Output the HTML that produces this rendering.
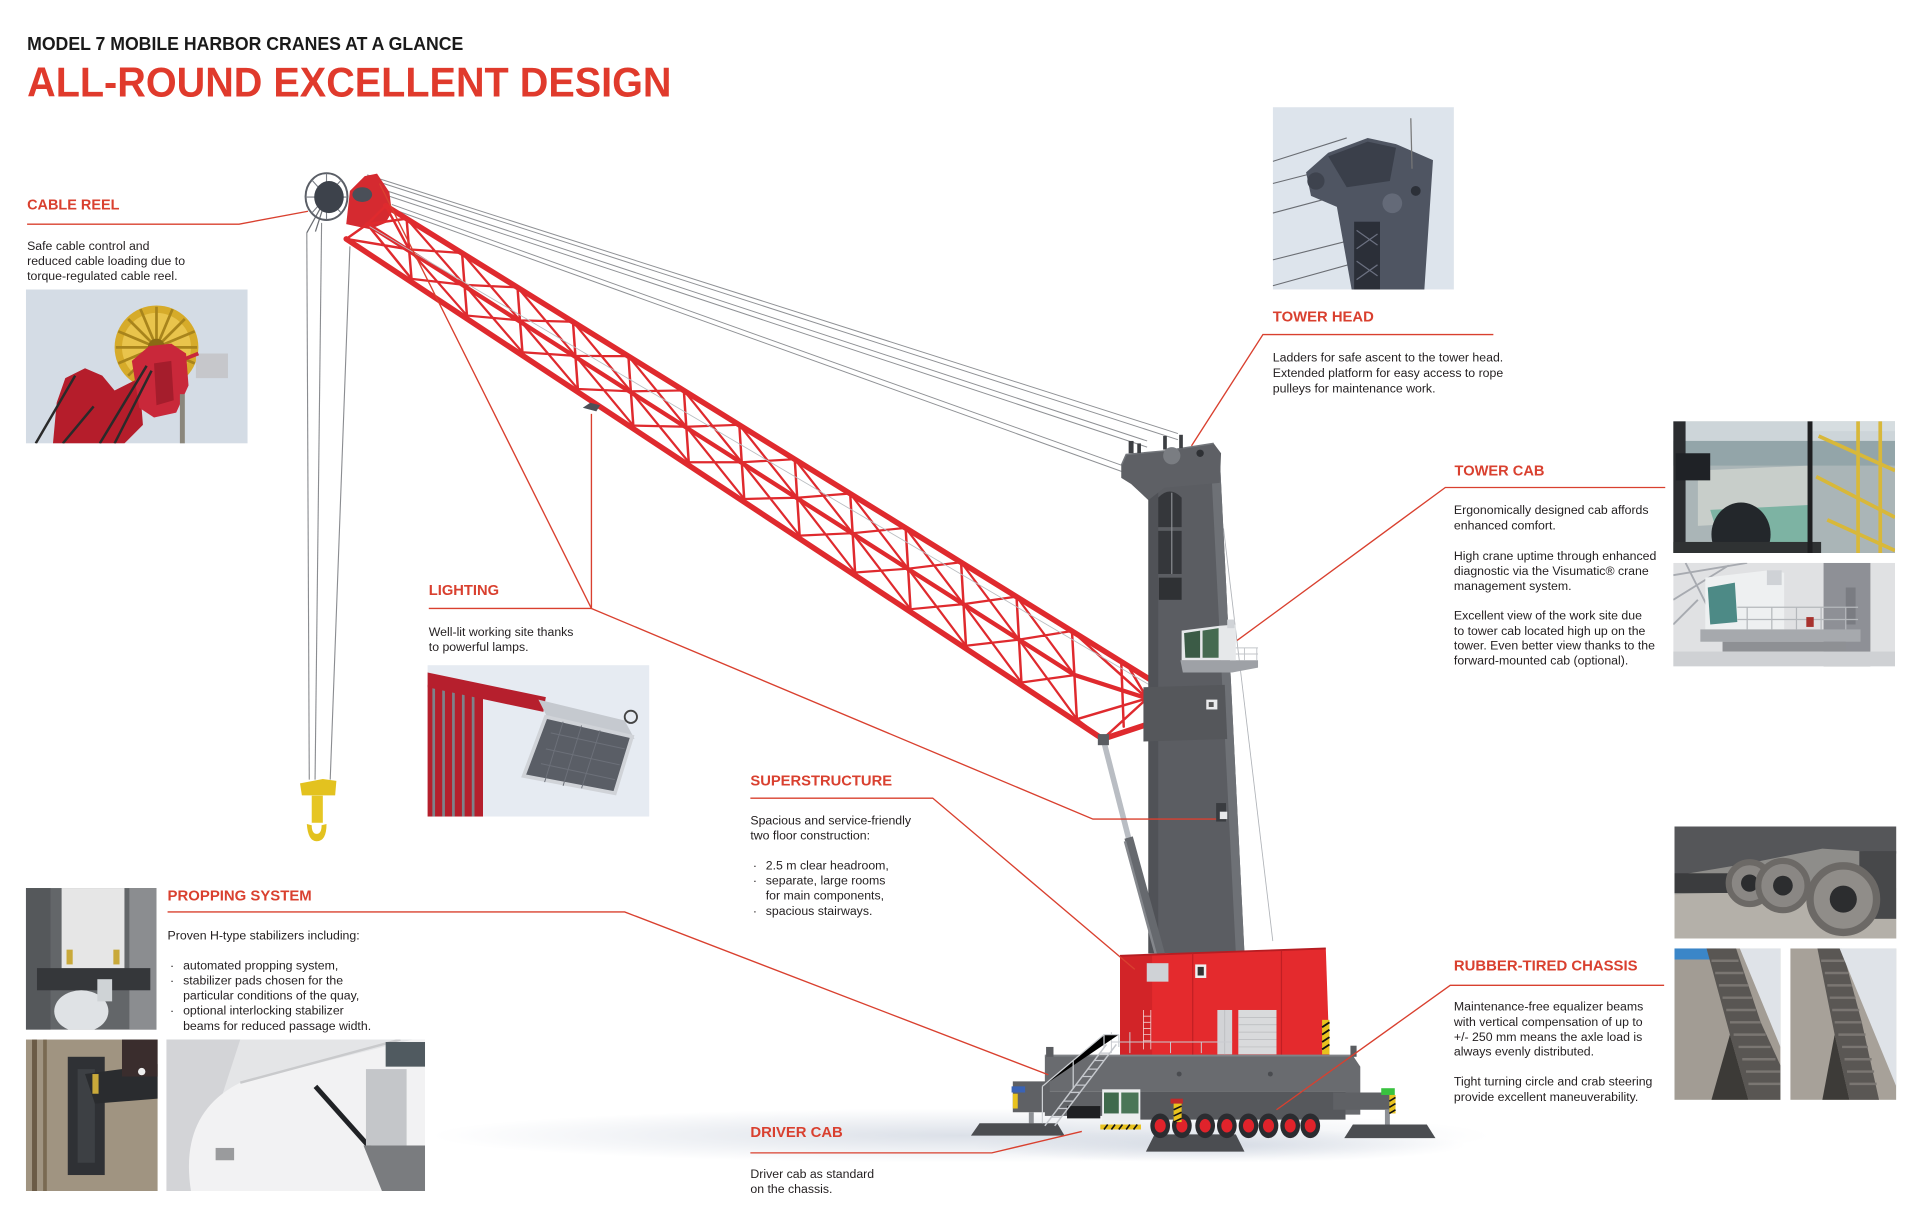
<!DOCTYPE html>
<html>
<head>
<meta charset="utf-8">
<style>
html,body{margin:0;padding:0;background:#fff;}
svg{display:block;}
</style>
</head>
<body>
<svg xmlns="http://www.w3.org/2000/svg" width="1932" height="1228" viewBox="0 0 1568 997" preserveAspectRatio="none" font-family="'Liberation Sans', Arial, sans-serif">
<defs>
<radialGradient id="sh" cx="0.5" cy="0.5" r="0.5">
<stop offset="0" stop-color="#c4ccd9" stop-opacity="0.6"/>
<stop offset="1" stop-color="#c4ccd9" stop-opacity="0"/>
</radialGradient>
</defs>
<rect width="1568" height="997" fill="#fff"/>

<!-- ground shadow -->
<ellipse cx="780" cy="922" rx="430" ry="22" fill="url(#sh)"/>
<ellipse cx="990" cy="930" rx="200" ry="14" fill="url(#sh)"/>

<!-- ===== TEXT: titles ===== -->
<text x="22" y="40.6" font-size="15" font-weight="bold" fill="#1a1a1a" textLength="354" lengthAdjust="spacingAndGlyphs">MODEL 7 MOBILE HARBOR CRANES AT A GLANCE</text>
<text x="22" y="78.5" font-size="34" font-weight="bold" fill="#e03a2c" textLength="523" lengthAdjust="spacingAndGlyphs">ALL-ROUND EXCELLENT DESIGN</text>

<!-- ===== PHOTOS ===== -->
<!-- cable reel photo -->
<svg x="21" y="235" width="180" height="125" viewBox="0 0 180 125">
<rect width="180" height="125" fill="#d4dce5"/>
<circle cx="106" cy="47" r="34" fill="#d6ab2a"/>
<circle cx="106" cy="47" r="28" fill="#e9c44c"/>
<path d="M106,14 V80 M73,47 H139 M83,24 L129,70 M129,24 L83,70 M93,16 L119,78 M119,16 L93,78 M75,34 L137,60 M137,34 L75,60" stroke="#a8841c" stroke-width="2.2"/>
<circle cx="106" cy="47" r="7" fill="#8a6a14"/>
<path d="M22,125 L25,92 L32,72 L48,64 L62,70 L72,82 L92,72 L95,110 L80,125 Z" fill="#b51d2b"/>
<path d="M86,58 L100,46 L118,44 L130,52 L132,78 L122,100 L104,104 L92,96 Z" fill="#c9283a"/>
<path d="M104,60 L118,58 L120,90 L106,94 Z" fill="#a51d2c"/>
<path d="M8,125 L40,70 M30,125 L55,95 M60,125 L98,62 M72,125 L102,66" stroke="#2a2a2a" stroke-width="2"/>
<rect x="138" y="52" width="26" height="20" fill="#c6c7cb"/>
<path d="M130,56 L140,52" stroke="#c9283a" stroke-width="3"/>
<rect x="125" y="85" width="4" height="40" fill="#8b877c"/>
</svg>

<!-- tower head photo -->
<svg x="1033" y="87" width="147" height="148" viewBox="0 0 147 148">
<rect width="147" height="148" fill="#dde4ec"/>
<path d="M0,44 L60,25 M0,62 L70,44 M0,86 L75,66 M0,124 L95,100 M0,145 L90,120" stroke="#6a6d73" stroke-width="0.9"/>
<path d="M27,53 L45,37 L77,25 L100,30 L130,43 L123,148 L64,148 L52,81 L31,72 Z" fill="#4f5562"/>
<path d="M45,40 L77,28 L100,33 L95,60 L60,65 Z" fill="#3a3f4a"/>
<rect x="66" y="93" width="21" height="55" fill="#2b2f38"/>
<path d="M68,100 L85,112 M68,115 L85,103 M68,125 L85,137 M68,140 L85,128" stroke="#6b7080" stroke-width="1"/>
<circle cx="97" cy="78" r="8" fill="#646a78"/>
<circle cx="116" cy="68" r="4" fill="#2c3038"/>
<circle cx="35" cy="60" r="7" fill="#3e434e"/>
<path d="M112,9 L113,50" stroke="#777" stroke-width="1"/>
</svg>

<!-- tower cab photo 1 -->
<svg x="1358" y="342" width="180" height="107" viewBox="0 0 180 107">
<rect width="180" height="107" fill="#aab5b7"/>
<rect width="180" height="16" fill="#cdd5d9"/>
<rect y="16" width="180" height="20" fill="#93a5a9"/>
<path d="M20,40 L110,36 L110,80 L20,85Z" fill="#c8ceca"/>
<path d="M30,72 L110,68 L112,100 L40,104 Z" fill="#7db3a3"/>
<ellipse cx="55" cy="92" rx="24" ry="26" fill="#23272b"/>
<rect width="10" height="107" fill="#2b2d30"/>
<rect x="2" y="26" width="28" height="22" fill="#1f2226"/>
<rect y="98" width="120" height="9" fill="#2f3233"/>
<rect x="113" width="67" height="8" fill="#d6dde0"/>
<path d="M118,12 L180,40 M116,45 L180,78 M150,0 L150,107 M168,0 L168,107 M125,80 L180,105" stroke="#d8b83a" stroke-width="3"/>
<rect x="109" width="4" height="107" fill="#1e1f21"/>
</svg>

<!-- tower cab photo 2 -->
<svg x="1358" y="457" width="180" height="84" viewBox="0 0 180 84">
<rect width="180" height="84" fill="#e0e1e3"/>
<path d="M0,10 L60,0 M0,30 L45,2 M10,0 L30,40 M0,50 L20,30" stroke="#a7aab0" stroke-width="1.5"/>
<rect x="122" width="38" height="84" fill="#8e9096"/>
<rect x="140" y="20" width="8" height="30" fill="#7a7c82"/>
<path d="M26,12 L78,6 L90,8 L90,54 L26,54 Z" fill="#eef0f1"/>
<path d="M28,20 L50,16 L52,48 L30,50 Z" fill="#4d8a86"/>
<rect x="76" y="6" width="12" height="12" fill="#cfd2d6"/>
<rect x="22" y="54" width="130" height="10" fill="#a6a9ad"/>
<rect x="40" y="64" width="100" height="8" fill="#8e9094"/>
<path d="M52,36 H150 M52,46 H150 M60,36 V54 M80,36 V54 M100,36 V54 M120,36 V54 M140,36 V54" stroke="#b5b8bc" stroke-width="1"/>
<rect x="108" y="44" width="6" height="8" fill="#a8322e"/>
<rect y="72" width="180" height="12" fill="#cfd1d4"/>
</svg>

<!-- lighting photo -->
<svg x="347" y="540" width="180" height="123" viewBox="0 0 180 123">
<rect width="180" height="123" fill="#e6ebf2"/>
<rect x="0" y="16" width="45" height="107" fill="#b51f2c"/>
<path d="M5,18 V123 M13,18 V123 M21,18 V123 M29,18 V123 M37,18 V123" stroke="#7d828a" stroke-width="2.2"/>
<path d="M0,6 L96,26 L94,38 L0,18 Z" fill="#b61f2d"/>
<path d="M90,28 L160,45 L168,60 L98,44 Z" fill="#c5c9cf"/>
<path d="M96,42 L166,58 L152,104 L78,90 Z" fill="#5a5e66" stroke="#d0d3d8" stroke-width="3"/>
<path d="M100,55 L160,68 M96,68 L156,81 M92,80 L152,93 M110,46 L95,95 M125,49 L110,98 M140,53 L125,100" stroke="#6c7079" stroke-width="0.8"/>
<circle cx="165" cy="42" r="5" fill="none" stroke="#444" stroke-width="1.5"/>
</svg>

<!-- propping photo 1 -->
<svg x="21" y="721" width="106" height="115" viewBox="0 0 106 115">
<rect width="106" height="115" fill="#636669"/>
<rect x="84" width="22" height="115" fill="#8b8d90"/>
<rect width="20" height="115" fill="#55585b"/>
<rect x="29" width="51" height="66" fill="#e6e6e6"/>
<rect x="33" y="50" width="5" height="12" fill="#c9a93a"/>
<rect x="71" y="50" width="5" height="12" fill="#c9a93a"/>
<rect x="9" y="65" width="92" height="18" fill="#35373a"/>
<ellipse cx="45" cy="100" rx="22" ry="17" fill="#dfe2e5"/>
<rect x="58" y="74" width="12" height="18" fill="#cfd3d6"/>
</svg>

<!-- propping photo 2 -->
<svg x="21" y="844" width="107" height="123" viewBox="0 0 107 123">
<rect width="107" height="123" fill="#a09481"/>
<rect x="5" width="4" height="123" fill="#6b5b46"/>
<rect x="14" width="3" height="123" fill="#7a6a52"/>
<rect x="34" y="14" width="30" height="96" fill="#2f3135"/>
<rect x="42" y="24" width="14" height="76" fill="#3d4044"/>
<path d="M48,28 L107,20 L107,48 L56,52 Z" fill="#2a2c2f"/>
<rect x="78" y="0" width="29" height="30" fill="#3a2d2d"/>
<circle cx="94" cy="26" r="3" fill="#eee"/>
<rect x="54" y="28" width="5" height="16" fill="#c9a93a"/>
</svg>

<!-- propping photo 3 -->
<svg x="135" y="844" width="210" height="123" viewBox="0 0 210 123">
<rect width="210" height="123" fill="#e4e5e7"/>
<path d="M0,0 H60 L20,123 H0Z" fill="#d3d4d7"/>
<path d="M20,123 Q10,60 60,35 L200,0 L210,0 V123 Z" fill="#f2f2f3"/>
<path d="M60,35 L190,0" stroke="#c9cacc" stroke-width="2"/>
<path d="M121,38 L178,102" stroke="#202225" stroke-width="4"/>
<rect x="162" y="24" width="33" height="62" fill="#c4c6c9"/>
<rect x="178" y="2" width="32" height="20" fill="#505a60"/>
<path d="M160,86 L210,86 L210,123 L175,123 Z" fill="#7a7c7f"/>
<rect x="40" y="88" width="15" height="10" fill="#9a9b9d"/>
</svg>

<!-- rubber photo 1 -->
<svg x="1359" y="671" width="180" height="91" viewBox="0 0 180 91">
<rect width="180" height="91" fill="#8e8d8a"/>
<path d="M0,0 H180 V22 L120,18 L60,30 L0,40 Z" fill="#555659"/>
<path d="M0,55 L180,50 V91 H0 Z" fill="#b4b0a9"/>
<rect y="38" width="50" height="16" fill="#3b3c3e"/>
<rect x="150" y="20" width="30" height="55" fill="#47484a"/>
<circle cx="61" cy="46" r="17" fill="#8a8784" stroke="#6c6966" stroke-width="5"/>
<circle cx="61" cy="46" r="7" fill="#2c2d2f"/>
<circle cx="88" cy="48" r="20" fill="#8a8784" stroke="#6c6966" stroke-width="5"/>
<circle cx="88" cy="48" r="8" fill="#2c2d2f"/>
<circle cx="137" cy="59" r="27" fill="#908d89" stroke="#6c6966" stroke-width="6"/>
<circle cx="137" cy="59" r="11" fill="#2c2d2f"/>
</svg>

<!-- rubber photo 2 -->
<svg x="1359" y="770" width="86" height="123" viewBox="0 0 86 123">
<rect width="86" height="123" fill="#a29c94"/>
<rect width="37" height="9" fill="#3b86c8"/>
<path d="M26,0 L50,0 L70,60 L86,95 L86,123 L60,123 L45,70 Z" fill="#595653"/>
<path d="M30,10 H52 M33,20 H56 M36,30 H60 M39,40 H63 M42,50 H66 M45,60 H70 M48,70 H74 M52,80 H78 M55,90 H82 M58,100 H86 M60,110 H86" stroke="#7a7672" stroke-width="2"/>
<path d="M45,70 L60,123 L30,123 Z" fill="#3c3a37"/>
<path d="M53,0 H86 V80 Z" fill="#dfe3e8"/>
</svg>

<!-- rubber photo 3 -->
<svg x="1453" y="770" width="86" height="123" viewBox="0 0 86 123">
<rect width="86" height="123" fill="#a7a199"/>
<path d="M22,0 L42,0 L58,60 L72,123 L48,123 L36,70 Z" fill="#5a5754"/>
<path d="M25,10 H44 M28,20 H47 M30,30 H50 M32,40 H53 M34,50 H56 M36,60 H58 M39,70 H61 M42,80 H63 M44,90 H66 M46,100 H68 M48,110 H70" stroke="#7a7672" stroke-width="2"/>
<path d="M36,70 L48,123 L26,123 Z" fill="#3d3b38"/>
<path d="M40,0 H86 V112 Z" fill="#dfe3e8"/>
</svg>

<!-- ===== CRANE ===== -->
<!-- tension cables -->
<g stroke="#8f9195" stroke-width="0.8" fill="none">
<path d="M298,142 L956,352"/>
<path d="M302,146 L956,357"/>
<path d="M308,153 L931,358"/>
<path d="M312,158 L931,363"/>
<path d="M318,166 L911,378"/>
<path d="M322,171 L911,383"/>
</g>
<!-- hoist ropes -->
<g stroke="#8a8c90" stroke-width="0.9" fill="none">
<path d="M249,189 L251,633"/>
<path d="M261,181 L255.7,633"/>
<path d="M284,200 L268,633"/>
</g>
<!-- hook -->
<path d="M243.5,636 L262,632.5 L273,634 L272,645.8 L245,645.8 Z" fill="#e3c21f"/>
<rect x="253" y="646" width="9" height="22" fill="#e6c624"/>
<path d="M249,669 Q250,683 257,683 Q265,683 265,669 L261,670 Q261,677 257,677 Q253,677 253,670 Z" fill="#e3c21f"/>

<!-- cable reel -->
<path d="M265,160 L249,189 M265,160 L256,188" stroke="#6b6e74" stroke-width="1"/>
<ellipse cx="265" cy="159.6" rx="17" ry="19" fill="none" stroke="#5a5e66" stroke-width="1.6"/>
<g stroke="#7a7e86" stroke-width="0.9">
<path d="M265,141 V178 M248,160 H282 M253,146 L277,173 M277,146 L253,173"/>
</g>
<ellipse cx="267" cy="160" rx="12" ry="13" fill="#3d424b"/>
<!-- boom head -->
<path d="M281,182 L284,155 L296,143 L306,141 L316,156 L318,172 L313,181 L300,186 Z" fill="#d52a30"/>
<ellipse cx="294" cy="158" rx="8" ry="6" fill="#4a4f58"/>

<!-- boom lattice -->
<g stroke="#df2a2e" fill="none" stroke-linecap="round">
<!-- chords -->
<path d="M313,167 L971,575" stroke-width="4.5"/>
<path d="M298,182 L872,548 L931,567 L971,575" stroke-width="3.5"/>
<path d="M281,194 L895,600 L971,575" stroke-width="4.5"/>
<!-- tip bracing -->
<path d="M313,167 L298,182 L281,194 M313,167 L332,202.5 M298,182 L330,177.5 M298,182 L334,226.4 M281,194 L332,202.5" stroke-width="2"/>
<!-- posts -->
<path stroke-width="2" d="M330,177.5L332,202.5L334,226.4 M375,205.4L377,231.3L379,256.2 M420,233.3L422,260.1L424,286 M465,261.2L467,288.9L469,315.8 M510,289.1L512,317.7L514,345.5 M555,317L557,346.5L559,375.3 M600,344.9L602,375.3L604,405.1 M645,372.8L647,404.1L649,434.9 M690,400.7L692,432.9L694,464.8 M735,428.6L737,461.7L739,494.6 M780,456.5L782,490.5L784,524.3 M825,484.4L827,519.3L829,554.1 M870,512.3L872,548.1L874,583.9"/>
<!-- upper diagonals -->
<path stroke-width="1.8" d="M330,177.5L377,231.3 M332,202.5L375,205.4 M375,205.4L422,260.1 M377,231.3L420,233.3 M420,233.3L467,288.9 M422,260.1L465,261.2 M465,261.2L512,317.7 M467,288.9L510,289.1 M510,289.1L557,346.5 M512,317.7L555,317 M555,317L602,375.3 M557,346.5L600,344.9 M600,344.9L647,404.1 M602,375.3L645,372.8 M645,372.8L692,432.9 M647,404.1L690,400.7 M690,400.7L737,461.7 M692,432.9L735,428.6 M735,428.6L782,490.5 M737,461.7L780,456.5 M780,456.5L827,519.3 M782,490.5L825,484.4 M825,484.4L872,548.1 M827,519.3L870,512.3"/>
<!-- lower diagonals -->
<path stroke-width="1.8" d="M332,202.5L379,256.2 M334,226.4L377,231.3 M377,231.3L424,286 M379,256.2L422,260.1 M422,260.1L469,315.8 M424,286L467,288.9 M467,288.9L514,345.5 M469,315.8L512,317.7 M512,317.7L559,375.3 M514,345.5L557,346.5 M557,346.5L604,405.1 M559,375.3L602,375.3 M602,375.3L649,434.9 M604,405.1L647,404.1 M647,404.1L694,464.8 M649,434.9L692,432.9 M692,432.9L739,494.6 M694,464.8L737,461.7 M737,461.7L784,524.3 M739,494.6L782,490.5 M782,490.5L829,554.1 M784,524.3L827,519.3 M827,519.3L874,583.9 M829,554.1L872,548.1"/>
<!-- foot bracing -->
<path stroke-width="2" d="M870,512.3L931,567 M874,583.9L931,567 M895,600L931,567 M915,540L931,567 M931,567L895,600 M910,538L912,590 M940,556L940,585 M874,583.9L895,600"/>
</g>
<!-- thin gray line along boom -->
<path d="M300,184 L960,572" stroke="#b9bcc0" stroke-width="0.7"/>
<!-- lamp on boom -->
<path d="M473,331 L479,327 L487,329 L484,334 Z" fill="#4d5158"/>

<!-- tower -->
<line x1="993" y1="429" x2="1033" y2="764" stroke="#b0b3b8" stroke-width="0.7"/>
<path d="M932,400 L932,774 L1010,774 L990,372 Z" fill="#5b5d62"/>
<path d="M983,380 L990,372 L1010,774 L1003,774 Z" fill="#6e7176"/>
<path d="M932,400 L940,400 L940,774 L932,774 Z" fill="#505257"/>
<path d="M910,378 L914,369 L946,366 L985,360 L991,368 L990,392 L945,396 L932,406 L918,393 L910,388 Z" fill="#5e6065"/>
<path d="M910,378 L914,369 L946,366 L985,360" stroke="#73767b" stroke-width="1.2" fill="none"/>
<rect x="916" y="358" width="4" height="10" fill="#3d3f43"/>
<rect x="923" y="360" width="3" height="8" fill="#3d3f43"/>
<rect x="944" y="354" width="3" height="11" fill="#3d3f43"/>
<rect x="957" y="353" width="3" height="11" fill="#3d3f43"/>
<circle cx="951" cy="370" r="7" fill="#7a7d82"/>
<circle cx="974" cy="368" r="3" fill="#2e3034"/>
<path d="M940,428 V404 Q949.5,394 959,404 V428 Z" fill="#35373b"/>
<rect x="940" y="431" width="19" height="35" fill="#35373b"/>
<rect x="940.5" y="469" width="18.5" height="18" fill="#2f3134"/>
<path d="M951,400 V466" stroke="#8a8c90" stroke-width="1"/>
<!-- collar at pivot -->
<path d="M928,558 L994,556 L996,600 L928,602 Z" fill="#55575b"/>
<rect x="979" y="568" width="9" height="8" fill="#e9eaec"/>
<rect x="981" y="570" width="4" height="4" fill="#555"/>
<!-- lower lamp -->
<rect x="987" y="652" width="8" height="15" fill="#3a3c40"/>
<rect x="990" y="659" width="6" height="6" fill="#e8e9eb"/>
<!-- tower cab -->
<path d="M958,536 L1021,536 L1021,542 L1000,546 L960,546 Z" fill="#9ea1a6"/>
<path d="M990,526 H1021 M990,531 H1021 M1000,526 V536 M1010,526 V536 M1020,526 V536" stroke="#c3c6ca" stroke-width="0.8"/>
<path d="M959,512 L990,508 L1003,507 L1003,536 L959,536 Z" fill="#e6e8ea"/>
<path d="M961,514 L974,512 L974,534 L962,534 Z" fill="#3b5b46"/>
<path d="M976,512 L989,510 L989,534 L976,534 Z" fill="#456a50"/>
<rect x="996" y="503" width="6" height="7" fill="#d0d3d7"/>

<!-- luffing cylinder -->
<path d="M895.5,600.6 L917.2,685.3" stroke="#b9bdc3" stroke-width="4.5"/>
<path d="M916,680 L947,793" stroke="#66696e" stroke-width="7"/>
<path d="M913,683 L943,793" stroke="#84878c" stroke-width="2"/>
<rect x="891" y="596" width="9" height="9" fill="#5a5d62"/>

<!-- superstructure -->
<path d="M909,776 L1076,770 L1079,857 L909,857 Z" fill="#e42a2d"/>
<path d="M909,776 L935,775 L935,857 L909,857 Z" fill="#d22428"/>
<path d="M909,776 L1076,770" stroke="#b61d22" stroke-width="1.5"/>
<path d="M968,774 V857 M1040,772 V857" stroke="#c11f24" stroke-width="1"/>
<rect x="970" y="783" width="9" height="11" fill="#f0f0f0"/>
<rect x="972" y="785" width="5" height="7" fill="#333"/>
<rect x="988" y="820" width="12" height="36" fill="#d2d3d6"/>
<rect x="1005" y="820" width="31" height="36" fill="#d9dadc"/>
<path d="M1005,826 H1036 M1005,832 H1036 M1005,838 H1036 M1005,844 H1036 M1005,850 H1036 M994,820 V856" stroke="#b9babd" stroke-width="0.6"/>
<rect x="1073" y="828" width="6" height="28" fill="#e8c21e"/>
<path d="M1073,834 L1079,830 M1073,840 L1079,836 M1073,846 L1079,842 M1073,852 L1079,848" stroke="#111" stroke-width="1.5"/>
<path d="M928,820 V852 M934,820 V852 M928,825 H934 M928,830 H934 M928,835 H934 M928,840 H934 M928,845 H934" stroke="#f2caca" stroke-width="0.7"/>
<path d="M902,838 V855 M902,846 H1000 M917,838 V855 M950,846 V855 M975,846 V855" stroke="#c9cbd0" stroke-width="0.8"/>
<rect x="930.7" y="782" width="17.6" height="15" fill="#cfd2d6"/>

<!-- chassis -->
<path d="M848,857 L1098,857 L1104,866 L1104,905 L1092,905 L1092,886 L848,886 Z" fill="#696b6f"/>
<path d="M848,857 H1098" stroke="#808387" stroke-width="1.5"/>
<rect x="849" y="850" width="6" height="8" fill="#5a5c60"/>
<rect x="1096" y="849" width="5" height="9" fill="#5a5c60"/>
<rect x="848" y="886" width="77" height="20" fill="#606266"/>
<path d="M925,886 L1092,886 L1092,909 L925,909 Z" fill="#56585c"/>
<circle cx="957" cy="872" r="2" fill="#4a4c50"/>
<circle cx="1031" cy="872" r="2" fill="#4a4c50"/>
<rect x="866" y="898" width="27" height="10" fill="#1f2023"/>
<!-- left outrigger -->
<path d="M822,878 L852,878 L852,903 L822,903 Z" fill="#5f6165"/>
<rect x="835" y="903" width="4" height="9" fill="#8d9095"/>
<rect x="821" y="882" width="11" height="5" fill="#3a63b5"/>
<rect x="822" y="888" width="4" height="12" fill="#e8c21e"/>
<path d="M795,912 L858,912 L864,922 L788,922 Z" fill="#4b4d51"/>
<!-- center pad -->
<path d="M937,921 L1003,921 L1010,935 L930,935 Z" fill="#4b4d51"/>
<!-- right outrigger -->
<path d="M1082,887 L1130,887 L1130,901 L1082,901 Z" fill="#5f6165"/>
<rect x="1124" y="901" width="4" height="12" fill="#8d9095"/>
<rect x="1121" y="883.5" width="11" height="5.5" fill="#39c23f"/>
<rect x="1127.6" y="889" width="5" height="15" fill="#e8c21e"/>
<path d="M1127.6,894 L1132.6,891 M1127.6,899 L1132.6,896 M1127.6,904 L1132.6,901" stroke="#111" stroke-width="1.3"/>
<path d="M1098,913 L1158,913 L1165,924 L1091,924 Z" fill="#4b4d51"/>
<!-- wheels -->
<g>
<ellipse cx="941.6" cy="914" rx="8" ry="10" fill="#2b2c30"/><ellipse cx="941.6" cy="914" rx="4.5" ry="5.5" fill="#e0232b"/>
<ellipse cx="959.2" cy="914" rx="8" ry="10" fill="#2b2c30"/><ellipse cx="959.2" cy="914" rx="4.5" ry="5.5" fill="#e0232b"/>
<ellipse cx="978.1" cy="914" rx="8" ry="10" fill="#2b2c30"/><ellipse cx="978.1" cy="914" rx="4.5" ry="5.5" fill="#e0232b"/>
<ellipse cx="995.7" cy="914" rx="8" ry="10" fill="#2b2c30"/><ellipse cx="995.7" cy="914" rx="4.5" ry="5.5" fill="#e0232b"/>
<ellipse cx="1013.3" cy="914" rx="8" ry="10" fill="#2b2c30"/><ellipse cx="1013.3" cy="914" rx="4.5" ry="5.5" fill="#e0232b"/>
<ellipse cx="1029.5" cy="914" rx="8" ry="10" fill="#2b2c30"/><ellipse cx="1029.5" cy="914" rx="4.5" ry="5.5" fill="#e0232b"/>
<ellipse cx="1047.1" cy="914" rx="8" ry="10" fill="#2b2c30"/><ellipse cx="1047.1" cy="914" rx="4.5" ry="5.5" fill="#e0232b"/>
<ellipse cx="1063.4" cy="914" rx="8" ry="10" fill="#2b2c30"/><ellipse cx="1063.4" cy="914" rx="4.5" ry="5.5" fill="#e0232b"/>
</g>
<!-- hazard post -->
<rect x="950" y="892" width="10" height="4" fill="#c02a2a"/>
<rect x="952.5" y="896" width="6.5" height="15" fill="#e8c21e"/>
<path d="M952.5,901 L959,898 M952.5,906 L959,903 M952.5,911 L959,908" stroke="#111" stroke-width="1.3"/>
<!-- driver cab -->
<rect x="894.5" y="884.4" width="31" height="28.6" fill="#eceeef"/>
<rect x="896" y="887" width="12" height="17" fill="#3f6a4c"/>
<rect x="910" y="887" width="14" height="17" fill="#4a7657"/>
<rect x="893" y="913" width="33" height="4" fill="#e8c21e"/>
<path d="M896,917 L899,913 M902,917 L905,913 M908,917 L911,913 M914,917 L917,913 M920,917 L923,913" stroke="#111" stroke-width="1.3"/>
<!-- stairs -->
<path d="M848,914 L898,848 M856,914 L906,848" stroke="#c5c8cd" stroke-width="1.2"/>
<path d="M853,907 H861 M858,900 H866 M863,894 H871 M868,887 H876 M873,881 H881 M878,874 H886 M883,868 H891 M888,861 H896 M893,855 H901" stroke="#c5c8cd" stroke-width="1"/>
<path d="M846,882 L896,840 H908 M846,882 V912 M871,861 V884 M896,840 V850 M908,840 V850" stroke="#cdd0d4" stroke-width="1"/>

<!-- ===== LEADER LINES ===== -->
<g stroke="#d9402f" stroke-width="1.1" fill="none">
<path d="M22,182 H194 L250,171.5"/>
<path d="M1212,271.6 H1025 L967,362"/>
<path d="M1351.5,395.8 H1173 L1004,520"/>
<path d="M348,494 H480"/>
<path d="M308,149 L480,494"/>
<path d="M480,336 V494"/>
<path d="M480,494 L887,665 H987"/>
<path d="M609,648 H757 L921,787"/>
<path d="M136,740.4 H507 L850.8,872.6"/>
<path d="M609,936 H805 L878,918.6"/>
<path d="M1350.6,800 H1177 L1036,901"/>
</g>

<!-- ===== HEADINGS ===== -->
<g font-size="12" font-weight="bold" fill="#d9402f">
<text x="22" y="170" textLength="75" lengthAdjust="spacingAndGlyphs">CABLE REEL</text>
<text x="1033" y="261" textLength="82" lengthAdjust="spacingAndGlyphs">TOWER HEAD</text>
<text x="1180.5" y="386" textLength="73" lengthAdjust="spacingAndGlyphs">TOWER CAB</text>
<text x="348" y="483" textLength="57" lengthAdjust="spacingAndGlyphs">LIGHTING</text>
<text x="609" y="637.7" textLength="115" lengthAdjust="spacingAndGlyphs">SUPERSTRUCTURE</text>
<text x="136" y="731" textLength="117" lengthAdjust="spacingAndGlyphs">PROPPING SYSTEM</text>
<text x="1180" y="788" textLength="149" lengthAdjust="spacingAndGlyphs">RUBBER-TIRED CHASSIS</text>
<text x="609" y="923.3" textLength="75" lengthAdjust="spacingAndGlyphs">DRIVER CAB</text>
</g>

<!-- ===== BODY TEXT ===== -->
<g font-size="10" fill="#231f20">
<text x="22" y="202.9">Safe cable control and</text>
<text x="22" y="215.1">reduced cable loading due to</text>
<text x="22" y="227.3">torque-regulated cable reel.</text>

<text x="1033" y="293.5">Ladders for safe ascent to the tower head.</text>
<text x="1033" y="306">Extended platform for easy access to rope</text>
<text x="1033" y="318.5">pulleys for maintenance work.</text>

<text x="1180" y="417.5">Ergonomically designed cab affords</text>
<text x="1180" y="430">enhanced comfort.</text>
<text x="1180" y="454.5">High crane uptime through enhanced</text>
<text x="1180" y="467">diagnostic via the Visumatic® crane</text>
<text x="1180" y="479">management system.</text>
<text x="1180" y="503">Excellent view of the work site due</text>
<text x="1180" y="515.5">to tower cab located high up on the</text>
<text x="1180" y="527.5">tower. Even better view thanks to the</text>
<text x="1180" y="539.5">forward-mounted cab (optional).</text>

<text x="348" y="516.2">Well-lit working site thanks</text>
<text x="348" y="528.5">to powerful lamps.</text>

<text x="609" y="669.4">Spacious and service-friendly</text>
<text x="609" y="681.5">two floor construction:</text>
<text x="611" y="705.9">·</text><text x="621.5" y="705.9">2.5 m clear headroom,</text>
<text x="611" y="718.3">·</text><text x="621.5" y="718.3">separate, large rooms</text>
<text x="621.5" y="730.2">for main components,</text>
<text x="611" y="742.7">·</text><text x="621.5" y="742.7">spacious stairways.</text>

<text x="136" y="762.8">Proven H-type stabilizers including:</text>
<text x="138" y="787.3">·</text><text x="148.6" y="787.3">automated propping system,</text>
<text x="138" y="799.2">·</text><text x="148.6" y="799.2">stabilizer pads chosen for the</text>
<text x="148.6" y="811.3">particular conditions of the quay,</text>
<text x="138" y="823.5">·</text><text x="148.6" y="823.5">optional interlocking stabilizer</text>
<text x="148.6" y="836.4">beams for reduced passage width.</text>

<text x="1180" y="820.6">Maintenance-free equalizer beams</text>
<text x="1180" y="832.8">with vertical compensation of up to</text>
<text x="1180" y="845">+/- 250 mm means the axle load is</text>
<text x="1180" y="857.1">always evenly distributed.</text>
<text x="1180" y="881.5">Tight turning circle and crab steering</text>
<text x="1180" y="893.7">provide excellent maneuverability.</text>

<text x="609" y="956.5">Driver cab as standard</text>
<text x="609" y="968.7">on the chassis.</text>
</g>
</svg>
</body>
</html>
